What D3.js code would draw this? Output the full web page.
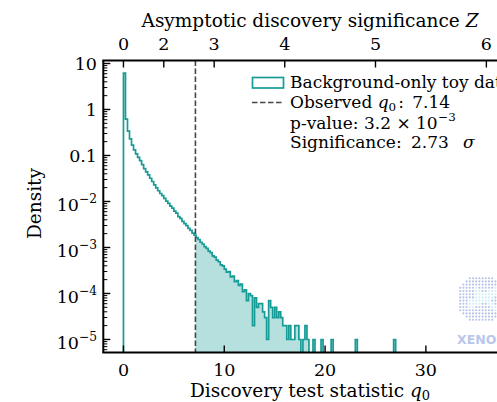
<!DOCTYPE html>
<html><head><meta charset="utf-8">
<script src="https://cdn.jsdelivr.net/npm/d3@7"></script>
<style>body{margin:0;background:#fff}svg{display:block;font-family:"DejaVu Serif",serif}</style>
</head><body>
<svg id="c" width="497" height="402"></svg>
<script>
// ---- data ----
const binStart = 0;
const binWidth = 0.2;
const density = [
  6.2, 0.62, 0.34, 0.23, 0.168, 0.133, 0.108, 0.091, 0.077, 0.063,
  0.052, 0.044, 0.038, 0.032, 0.0272, 0.0229, 0.0198, 0.0171, 0.0149, 0.0134,
  0.0117, 0.0102, 0.0091, 0.0079, 0.0072, 0.0062, 0.0056, 0.0047, 0.0043, 0.0037,
  0.0033, 0.0030, 0.0026, 0.00236, 0.00205, 0.00186, 0.00164, 0.00149, 0.00130, 0.00119,
  0.00104, 0.00096, 0.00083, 0.00077, 0.00066, 0.00062, 0.00053, 0.00049, 0.00042, 0.00040,
  0.00034, 0.00029, 0.00030, 0.00023, 0.00024, 0.00018, 0.00019, 0.00015, 0.00016, 0.00011,
  0.00012, 0.00007, 0.00010, 0.00009, 0.00002, 0.00008, 0.00005, 0.00006, 0.00006, 0.00004,
  0.00003, 0.00001, 0.00007, 0.00005, 0.00003, 0.00005, 0.00003, 0.00004, 0.00003, 0.00002,
  0.00002, 0.00001, 0.00002, 0.00001, 0.00001, 0.00002, 0.00002, 0.00001, 0, 0.00001,
  0.00002, 0.00001, 0, 0, 0.00001, 0, 0, 0, 0.00001, 0,
  0, 0, 0, 0.00001, 0, 0, 0, 0, 0, 0,
  0, 0, 0, 0, 0, 0.00001, 0, 0, 0, 0,
  0, 0, 0, 0, 0, 0, 0, 0, 0, 0,
  0, 0, 0, 0, 0.00001
];
const observedQ0 = 7.14;
const pValueText = ["3.2", "−3"];
const significanceText = "2.73";
const xTickValues = [0, 10, 20, 30, 40];
const zTickValues = [0, 2, 3, 4, 5, 6];
const yMajorValues = [1e-5, 1e-4, 1e-3, 1e-2, 1e-1, 1, 10];
const yMajorLabels = [["10","−5"],["10","−4"],["10","−3"],["10","−2"],["0.1",""],["1",""],["10",""]];
const xDomain = [-2, 40];
const yDomain = [5.21e-6, 11.62];

// ---- layout ----
const L = 103.3, R = 526.7, T = 60.5, B = 352.5;
const teal = "#179b96", tealFill = "#b5e0de";
const fsTick = 17.5, fsLab = 18.5, fsLeg = 17;
const svg = d3.select("#c");
const x = d3.scaleLinear().domain(xDomain).range([L, R]);
const y = d3.scaleLog().domain(yDomain).range([B, T]);
const yv = v => v > 0 ? y(v) : B + 20;

svg.append("defs").append("clipPath").attr("id","clip")
  .append("rect").attr("x", L).attr("y", T).attr("width", R - L).attr("height", B - T);
const plot = svg.append("g").attr("clip-path", "url(#clip)");

const edges = density.map((d, i) => binStart + i * binWidth);
const lastEdge = binStart + density.length * binWidth;

// fill beyond observed
const fillPts = [[x(observedQ0), B + 20]];
density.forEach((d, i) => {
  const a = edges[i], b = a + binWidth;
  if (b <= observedQ0) return;
  const a2 = Math.max(a, observedQ0);
  fillPts.push([x(a2), yv(d)], [x(b), yv(d)]);
});
fillPts.push([x(lastEdge), B + 20]);
plot.append("path").attr("d", d3.line()(fillPts)).attr("fill", tealFill).attr("stroke", "none");

// step outline
const stepPts = [[x(binStart), B + 20]];
density.forEach((d, i) => { stepPts.push([x(edges[i]), yv(d)], [x(edges[i] + binWidth), yv(d)]); });
stepPts.push([x(lastEdge), B + 20]);
plot.append("path").attr("d", d3.line()(stepPts)).attr("fill", "none")
  .attr("stroke", teal).attr("stroke-width", 1.7).attr("stroke-linejoin", "miter");

// observed line
plot.append("line").attr("x1", x(observedQ0)).attr("x2", x(observedQ0)).attr("y1", T).attr("y2", B)
  .attr("stroke", "#454545").attr("stroke-width", 1.6).attr("stroke-dasharray", "5.5,2.5");

// watermark logo
const logo = svg.append("g").attr("opacity", 0.85);
const cx = 481, cy = 299, rr = 24;
for (let gx = -rr; gx <= rr; gx += 3.2) {
  for (let gy = -rr; gy <= rr; gy += 3.2) {
    if (gx*gx + gy*gy <= rr*rr) {
      const inner = (Math.abs(gy + gx*0.5) < 5 && gx > -14) || (Math.abs(gy - gx*0.9 + 4) < 4 && gx > -6);
      logo.append("circle").attr("cx", cx + gx).attr("cy", cy + gy).attr("r", 1.05)
        .attr("fill", inner ? "#c8ecf8" : "#a8b9e4");
    }
  }
}
logo.append("text").attr("x", 457).attr("y", 344).attr("font-family", "DejaVu Sans")
  .attr("font-weight", "bold").attr("font-size", 12.5).attr("fill", "#aebde8").text("XENON");

// axes frame
const axG = svg.append("g").attr("stroke", "#000");
axG.append("line").attr("x1", L).attr("x2", L).attr("y1", T).attr("y2", B).attr("stroke-width", 2);
axG.append("line").attr("x1", L - 1).attr("x2", R).attr("y1", B).attr("y2", B).attr("stroke-width", 2);
axG.append("line").attr("x1", L - 1).attr("x2", R).attr("y1", T).attr("y2", T).attr("stroke-width", 2);

// y ticks (inward)
yMajorValues.forEach((v, i) => {
  axG.append("line").attr("x1", L).attr("x2", L + 7).attr("y1", y(v)).attr("y2", y(v)).attr("stroke-width", 1.4);
  const lab = yMajorLabels[i];
  const t = svg.append("text").attr("x", 97).attr("text-anchor", "end").attr("font-size", fsTick);
  if (lab[1]) {
    t.attr("y", y(v) + 10);
    t.append("tspan").text(lab[0]);
    t.append("tspan").attr("font-size", fsTick * 0.7).attr("dy", -8).text(lab[1]);
  } else {
    t.attr("y", y(v) + 6.5).text(lab[0]);
  }
});
const e0 = Math.floor(Math.log10(yDomain[0])), e1 = Math.ceil(Math.log10(yDomain[1]));
for (let e = e0; e <= e1; e++) {
  for (let k = 2; k <= 9; k++) {
    const v = k * Math.pow(10, e);
    if (v < yDomain[0] || v > yDomain[1]) continue;
    axG.append("line").attr("x1", L).attr("x2", L + 4).attr("y1", y(v)).attr("y2", y(v)).attr("stroke-width", 1);
  }
}
// bottom ticks
xTickValues.forEach(v => {
  axG.append("line").attr("x1", x(v)).attr("x2", x(v)).attr("y1", B).attr("y2", B - 7).attr("stroke-width", 1.4);
  svg.append("text").attr("x", x(v)).attr("y", 375.5).attr("text-anchor", "middle").attr("font-size", fsTick).text(v);
});
// top ticks (Z = sqrt(q0))
zTickValues.forEach(z => {
  axG.append("line").attr("x1", x(z*z)).attr("x2", x(z*z)).attr("y1", T).attr("y2", T + 7).attr("stroke-width", 1.4);
  svg.append("text").attr("x", x(z*z)).attr("y", 50).attr("text-anchor", "middle").attr("font-size", fsTick).text(z);
});

// axis labels
const tt = svg.append("text").attr("x", 310).attr("y", 26.5).attr("text-anchor", "middle").attr("font-size", fsLab);
tt.append("tspan").text("Asymptotic discovery significance ");
tt.append("tspan").attr("font-style", "italic").text("Z");
const bt = svg.append("text").attr("x", 310).attr("y", 397).attr("text-anchor", "middle").attr("font-size", fsLab);
bt.append("tspan").text("Discovery test statistic ");
bt.append("tspan").attr("font-style", "italic").text("q");
bt.append("tspan").attr("font-size", fsLab * 0.7).attr("dy", 3).text("0");
svg.append("text").attr("transform", "translate(41,203.5) rotate(-90)").attr("text-anchor", "middle")
  .attr("font-size", fsLab).text("Density");

// legend
const lg = svg.append("g");
lg.append("rect").attr("x", 252.5).attr("y", 77.5).attr("width", 31).attr("height", 10.5)
  .attr("fill", "none").attr("stroke", teal).attr("stroke-width", 1.7);
lg.append("line").attr("x1", 252).attr("x2", 284).attr("y1", 102.5).attr("y2", 102.5)
  .attr("stroke", "#454545").attr("stroke-width", 1.6).attr("stroke-dasharray", "5.5,2.5");
lg.append("text").attr("x", 290).attr("y", 88.3).attr("font-size", fsLeg).text("Background-only toy data");
const l2 = lg.append("text").attr("x", 290).attr("y", 108.3).attr("font-size", fsLeg);
l2.append("tspan").text("Observed ");
l2.append("tspan").attr("font-style", "italic").text("q");
l2.append("tspan").attr("font-size", fsLeg * 0.7).attr("dy", 3).text("0");
l2.append("tspan").attr("dy", -3).attr("dx", 2).text(": ");
l2.append("tspan").attr("dx", 3).text(observedQ0.toFixed(2));
const l3 = lg.append("text").attr("x", 290).attr("y", 128.8).attr("font-size", fsLeg);
l3.append("tspan").text("p-value: " + pValueText[0] + " × 10");
const l3s = lg.append("text").attr("y", 121.3).attr("font-size", fsLeg * 0.7);
l3s.text(pValueText[1]);
const l3box = l3.node().getBBox();
l3s.attr("x", l3box.x + l3box.width + 0.5);
const l4 = lg.append("text").attr("x", 290).attr("y", 148).attr("font-size", fsLeg);
l4.append("tspan").text("Significance: ");
l4.append("tspan").attr("dx", 4).text(significanceText);
l4.append("tspan").attr("dx", 14).attr("font-style", "italic").text("σ");
</script>
</body></html>
